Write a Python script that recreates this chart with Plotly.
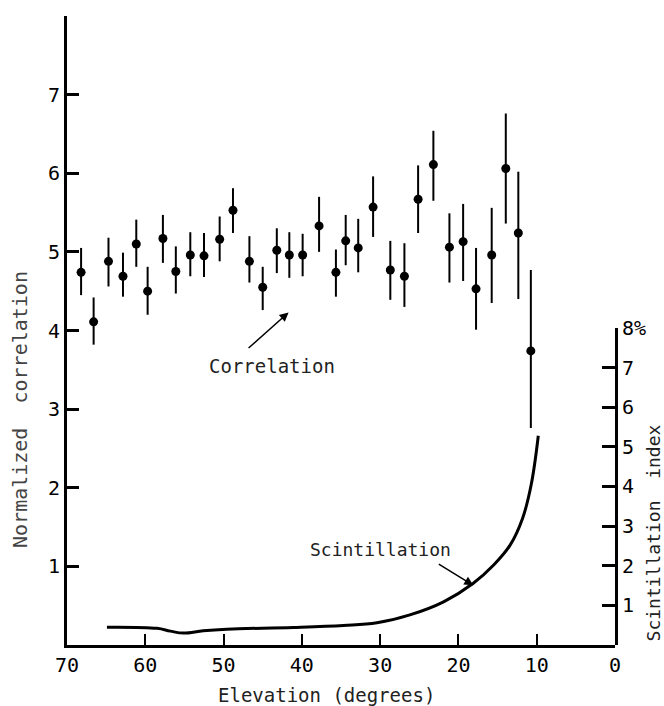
import plotly.graph_objects as go

# correlation points (elevation in degrees, normalized correlation, error bar ends)
elev = [68.2, 66.6, 64.7, 62.85, 61.15, 59.7, 57.75, 56.1, 54.25, 52.5, 50.5,
        48.8, 46.7, 45.0, 43.2, 41.6, 39.9, 37.8, 35.65, 34.4, 32.8, 30.9,
        28.7, 26.9, 25.15, 23.2, 21.15, 19.4, 17.75, 15.75, 13.95, 12.35, 10.75]
corr = [4.74, 4.11, 4.88, 4.69, 5.10, 4.50, 5.17, 4.75, 4.96, 4.95, 5.16,
        5.53, 4.88, 4.55, 5.02, 4.96, 4.96, 5.33, 4.74, 5.14, 5.05, 5.57,
        4.77, 4.69, 5.67, 6.11, 5.06, 5.13, 4.53, 4.96, 6.06, 5.24, 3.74]
corr_hi = [5.05, 4.42, 5.18, 4.99, 5.41, 4.81, 5.47, 5.07, 5.25, 5.24, 5.45,
           5.81, 5.20, 4.81, 5.30, 5.25, 5.23, 5.70, 5.03, 5.47, 5.42, 5.96,
           5.14, 5.11, 6.10, 6.54, 5.49, 5.61, 5.05, 5.56, 6.76, 6.02, 4.77]
corr_lo = [4.45, 3.82, 4.56, 4.43, 4.81, 4.20, 4.86, 4.47, 4.69, 4.68, 4.88,
           5.24, 4.61, 4.26, 4.73, 4.67, 4.69, 5.00, 4.43, 4.83, 4.74, 5.19,
           4.39, 4.30, 5.24, 5.65, 4.61, 4.63, 4.01, 4.35, 5.36, 4.40, 2.76]

# scintillation index curve (percent)
scint_elev = [64.9, 58.5, 56.8, 55.1, 52.6, 49.6, 41.1, 34.7, 30.4, 26.2,
              21.9, 18.1, 15.5, 13.4, 11.8, 10.7, 9.8]
scint_idx = [0.45, 0.42, 0.35, 0.30, 0.36, 0.40, 0.44, 0.49, 0.56, 0.76,
             1.09, 1.56, 2.02, 2.52, 3.20, 4.05, 5.28]

x_ticks = [70, 60, 50, 40, 30, 20, 10, 0]
left_ticks = [1, 2, 3, 4, 5, 6, 7, 8]
left_text = ['1', '2', '3', '4', '5', '6', '7', '']
right_ticks = [1, 2, 3, 4, 5, 6, 7, 8]
right_text = ['1', '2', '3', '4', '5', '6', '7', '8%']

FONT = 'DejaVu Sans Mono'

err_up = [h - c for h, c in zip(corr_hi, corr)]
err_dn = [c - l for c, l in zip(corr, corr_lo)]

fig = go.Figure()
fig.add_trace(go.Scatter(
    x=elev, y=corr, mode='markers',
    marker=dict(color='black', size=9),
    error_y=dict(type='data', symmetric=False, array=err_up, arrayminus=err_dn,
                 color='black', thickness=2, width=0),
    xaxis='x', yaxis='y', showlegend=False))

fig.add_trace(go.Scatter(
    x=scint_elev, y=scint_idx, mode='lines',
    line=dict(color='black', width=3, shape='spline', smoothing=1.1),
    xaxis='x', yaxis='y2', showlegend=False))

fig.update_layout(
    width=664, height=706,
    margin=dict(l=67, r=49, t=16, b=61),
    paper_bgcolor='white', plot_bgcolor='rgba(0,0,0,0)',
    font=dict(family=FONT, size=20, color='black'),
    xaxis=dict(range=[70, 0], tickvals=x_ticks, ticks='inside', ticklen=11,
               tickwidth=2, tickcolor='black', showline=True, linewidth=3,
               linecolor='black', showgrid=False, zeroline=False, anchor='y',
               automargin=False, tickfont=dict(family=FONT, size=20)),
    yaxis=dict(range=[0, 8], domain=[0, 1], tickvals=left_ticks, ticktext=left_text,
               ticks='inside', ticklen=12, tickwidth=3, tickcolor='black',
               showline=True, linewidth=3, linecolor='black', showgrid=False,
               zeroline=False, anchor='x', automargin=False,
               tickfont=dict(family=FONT, size=20)),
    yaxis2=dict(range=[0, 8], domain=[0, 0.504], anchor='x', side='right',
                tickvals=right_ticks, ticktext=right_text, ticks='inside',
                ticklen=13, tickwidth=3, tickcolor='black', showline=True,
                linewidth=3, linecolor='black', showgrid=False, zeroline=False,
                automargin=False, tickfont=dict(family=FONT, size=20)),
)

# axis titles
fig.add_annotation(text='Elevation (degrees)', xref='paper', yref='paper',
                   x=0.473, y=-0.079, xanchor='center', yanchor='middle',
                   showarrow=False, font=dict(family=FONT, size=19, color='#222'))
fig.add_annotation(text='Normalized  correlation', xref='paper', yref='paper',
                   x=-0.086, y=0.375, xanchor='center', yanchor='middle', textangle=-90,
                   showarrow=False, font=dict(family=FONT, size=20, color='#444'))
fig.add_annotation(text='Scintillation  index', xref='paper', yref='paper',
                   x=1.07, y=0.178, xanchor='center', yanchor='middle', textangle=-90,
                   showarrow=False, font=dict(family=FONT, size=18, color='#222'))

# labels with arrows
fig.add_annotation(text='Correlation', xref='x', yref='y', x=43.85, y=3.55,
                   showarrow=False, font=dict(family=FONT, size=19, color='#222'))
fig.add_annotation(text='', xref='x', yref='y', x=41.7, y=4.23,
                   axref='x', ayref='y', ax=47.0, ay=3.76, showarrow=True,
                   arrowhead=2, arrowsize=1.2, arrowwidth=1.5, arrowcolor='black')
fig.add_annotation(text='Scintillation', xref='x', yref='y', x=29.9, y=1.22,
                   showarrow=False, font=dict(family=FONT, size=18, color='#222'))
fig.add_annotation(text='', xref='x', yref='y', x=18.1, y=0.76,
                   axref='x', ayref='y', ax=22.7, ay=1.04, showarrow=True,
                   arrowhead=2, arrowsize=1.2, arrowwidth=1.5, arrowcolor='black')

fig.write_html('out.html', config={'displayModeBar': False},
               post_script="document.body.style.margin='0';")
